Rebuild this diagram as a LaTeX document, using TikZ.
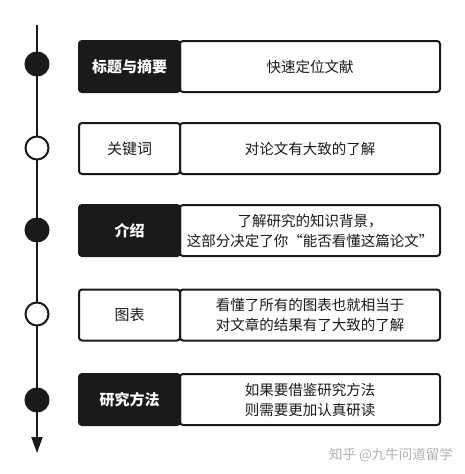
\documentclass[tikz,border=0pt]{standalone}
\usepackage{fontspec}
\setmainfont{Noto Sans CJK SC}
\newfontfamily\cjk{Noto Sans CJK SC}
\usetikzlibrary{arrows.meta}
\definecolor{ink}{HTML}{1A1A1A}
\tikzset{
  darklabel/.style={rectangle, rounded corners=3pt, fill=ink, draw=ink, line width=2pt,
    minimum width=101pt, minimum height=51pt, inner sep=0pt, text=white,
    font=\cjk\bfseries\fontsize{15}{18}\selectfont},
  lightlabel/.style={rectangle, rounded corners=3pt, fill=white, draw=ink, line width=2pt,
    minimum width=101pt, minimum height=51pt, inner sep=0pt, text=ink,
    font=\cjk\fontsize{15}{18}\selectfont},
  descbox/.style={rectangle, rounded corners=3pt, fill=white, draw=ink, line width=2pt,
    minimum width=260pt, minimum height=51pt, inner sep=0pt, text=ink, align=center,
    font=\cjk\fontsize{14.5}{20}\selectfont},
  dotfull/.style={circle, fill=ink, draw=ink, line width=2pt, minimum size=23pt, inner sep=0pt},
  dotempty/.style={circle, fill=white, draw=ink, line width=2pt, minimum size=23pt, inner sep=0pt},
}
\begin{document}
\begin{tikzpicture}[x=1pt,y=-1pt]
\useasboundingbox (0,0) rectangle (464,474);
\fill[white] (0,0) rectangle (464,474);
\coordinate (top) at (37,25);
\coordinate (bottom) at (37,453);
\draw[ink, line width=2pt, -{Triangle[length=16pt,width=11pt]}] (top) -- (bottom);
\node[dotfull] (c1) at (37,64) {};
\node[dotempty] (c2) at (37,148) {};
\node[dotfull] (c3) at (37,230) {};
\node[dotempty] (c4) at (37,314) {};
\node[dotfull] (c5) at (37,400) {};

\node[descbox] (d1) at (310,66.5) {快速定位文献};
\node[darklabel] (l1) at (129.5,66.5) {标题与摘要};

\node[descbox] (d2) at (310,148.5) {对论文有大致的了解};
\node[lightlabel] (l2) at (129.5,148.5) {关键词};

\node[descbox] (d3) at (310,230.5) {了解研究的知识背景，\\这部分决定了你“能否看懂这篇论文”};
\node[darklabel] (l3) at (129.5,230.5) {介绍};

\node[descbox] (d4) at (310,315) {看懂了所有的图表也就相当于\\对文章的结果有了大致的了解};
\node[lightlabel] (l4) at (129.5,315) {图表};

\node[descbox] (d5) at (310,399.5) {如果要借鉴研究方法\\则需要更加认真研读};
\node[darklabel] (l5) at (129.5,399.5) {研究方法};

\node[text=black!30, font=\cjk\fontsize{13.5}{16}\selectfont] (wm) at (391,455) {知乎 @九牛问道留学};
\end{tikzpicture}
\end{document}
